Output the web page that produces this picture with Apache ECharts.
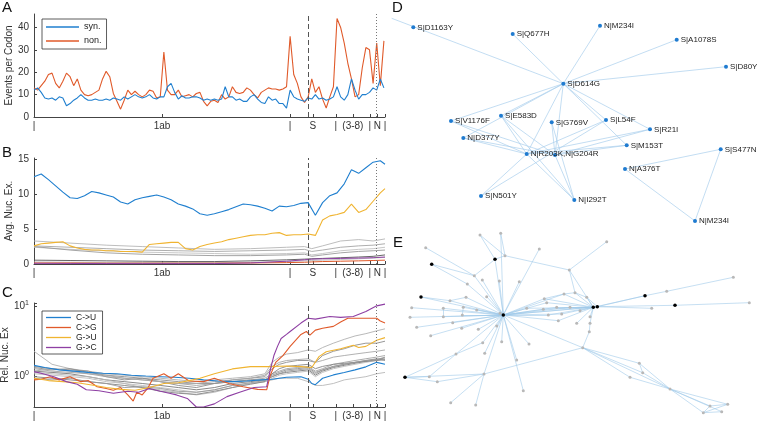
<!DOCTYPE html>
<html><head><meta charset="utf-8">
<script src="https://cdn.jsdelivr.net/npm/echarts@6/dist/echarts.min.js"></script>
<style>html,body{margin:0;padding:0;background:#fff}#c{width:757px;height:425px}</style>
</head><body><div id="c"></div>
<script>
// ---------------- DATA ----------------
const tickPos = [0, 3548, 7096, 7732, 8369, 8840, 9311, 9520, 9730];
const tickLabels = ['|', '1ab', '|', 'S', '|', '(3-8)', '|', 'N', '|'];
const markS = 7600, markN = 9480;

// Panel A
const xA = [0,100,200,300,400,500,600,700,800,900,1000,1100,1200,1300,1400,1500,1600,1700,1800,1900,2000,2100,2200,2300,2400,2500,2600,2700,2800,2900,3000,3100,3200,3300,3400,3500,3600,3700,3800,3900,4000,4100,4200,4300,4400,4500,4600,4700,4800,4900,5000,5100,5200,5300,5400,5500,5600,5700,5800,5900,6000,6100,6200,6300,6400,6500,6600,6700,6800,6900,7000,7100,7200,7300,7400,7500,7600,7700,7800,7900,8000,8100,8200,8300,8400,8500,8600,8700,8800,8900,9000,9100,9200,9300,9400,9500,9600,9700];
const nonA = [13,12,14,16,19,19.6,15,13,16,19.6,
  18,14,17,12,10,9.5,10,11,12,17,
  20.4,18,10.5,7,3.5,7.5,12,10,11.5,10,
  9,10,12,11.5,8.5,9,29,12,10,10,
  12,9,9.5,10,9,10.5,11,7,5,7,
  7.5,6.5,10,8,9,13.5,11,10.5,11,13,
  12,10,8.5,11,12,13,12.5,12.5,12,12.5,
  13.5,36,19,15,9,6.5,9,17,11,13.5,
  8,4,9,13.5,44,40,33,24,17,9,
  10,22,31,30,15,33,14,34];
const synA = [12,13,11,8.5,8,8.5,7.5,9,8.5,5,
  6,7.5,8.5,10,8.5,7.5,7.5,8,7.5,7.5,
  8,7.5,8.5,8,7.5,9,8,9,10,9,
  8.5,9,10,8.5,8,9,9,13.5,15,11,
  8,9.5,8.5,8.5,9,9,8.5,7.5,8,7.5,
  8,7.5,8,13.5,9,9,7.5,8,7,7,
  9,10,8,6.5,6,9,7.5,8,6,6,
  4,12,9,8,7.5,7,8.5,8,10,8,
  8.5,7.5,8,9,13.5,9,7.5,10,17,12,
  8,10,10,11,13,12,17,13];

// Panel B
const xB = [0,200,400,600,800,1000,1200,1400,1600,1800,2000,2200,2400,2600,2800,3000,3200,3400,3600,3800,4000,4200,4400,4600,4800,5000,5200,5400,5600,5800,6000,6200,6400,6600,6800,7000,7200,7400,7600,7800,8000,8200,8400,8600,8800,9000,9200,9400,9600,9730];
const blueB = [12.5,12.9,12.1,11.2,10.3,9.5,9.4,9.8,10.4,10.2,
  9.9,9.6,8.9,8.6,9.2,9.5,9.7,9.9,9.6,9.2,
  8.6,8.3,7.9,7.2,7.0,7.2,7.5,7.8,8.2,8.6,
  8.5,8.3,8.0,7.6,8.3,8.2,8.4,8.7,8.8,7.0,
  8.8,9.8,10.2,11.5,13.5,13.0,13.8,14.6,14.8,14.3];
const yellowB = [2.6,2.9,3.0,3.1,3.2,2.6,2.3,2.1,2.0,2.0,
  1.9,1.9,1.8,1.8,1.8,1.7,2.8,2.9,3.0,3.1,
  3.1,2.2,2.0,2.5,2.8,3.0,3.2,3.5,3.7,3.9,
  4.1,4.2,4.2,4.4,4.5,4.1,4.2,4.2,4.3,4.1,
  6.3,6.9,7.1,7.4,8.6,7.4,7.8,9.0,10.2,10.8];
const xBs = [0,1000,2000,3000,4000,5000,6000,7000,7500,7700,8000,8500,9000,9400,9730];
const grayB1 = [3.3,3.0,2.7,2.5,2.3,2.1,2.2,2.4,2.5,2.2,2.6,3.3,3.5,3.3,3.6];
const grayB2 = [2.6,2.4,2.2,2.0,1.9,1.8,1.9,2.0,2.1,1.8,2.0,2.4,2.6,2.7,2.9];
const grayB3 = [2.4,2.1,1.9,1.7,1.6,1.5,1.4,1.5,1.6,1.3,1.5,1.9,2.1,2.2,2.4];
const grayB4 = [2.5,2.0,1.6,1.4,1.3,1.2,1.2,1.3,1.4,1.1,1.3,1.6,1.8,1.9,2.0];
const grayB5 = [0.55,0.5,0.45,0.4,0.35,0.35,0.45,0.6,0.7,0.75,0.8,0.9,1.0,1.1,1.3];
const grayB6 = [0.3,0.25,0.2,0.2,0.2,0.2,0.25,0.35,0.45,0.5,0.55,0.65,0.75,0.85,0.95];
const orangeB = [0.15,0.15,0.12,0.12,0.12,0.12,0.15,0.2,0.25,0.3,0.35,0.4,0.45,0.5,0.55];
const purpleB = [0.1,0.08,0.06,0.05,0.05,0.06,0.15,0.4,0.6,0.7,0.75,0.8,0.85,0.9,1.0];

// Panel C
const cBlueX = [0,300,700,1100,1500,1900,2300,2700,3100,3500,3900,4300,4700,5100,5500,5900,6300,6600,7000,7400,7600,7700,7800,8000,8300,8600,8900,9200,9500,9730];
const cBlueY = [1.45,1.35,1.25,1.2,1.15,1.12,1.1,1.05,1.02,1.0,0.98,0.95,0.9,0.87,0.85,0.87,0.9,0.92,0.98,1.0,0.92,0.8,0.77,0.95,1.06,1.15,1.25,1.38,1.6,1.5];
const cOrangeX = [0,200,450,700,1000,1300,1500,1750,2000,2200,2400,2600,2750,2850,3000,3150,3300,3600,3800,4000,4300,4700,5000,5400,5800,6200,6450,6550,6700,6900,7100,7400,7550,7650,7800,8000,8300,8500,8700,8900,9200,9500,9600,9730];
const cOrangeY = [0.9,0.92,1.0,0.9,1.0,0.85,0.88,0.72,0.68,0.64,0.7,0.55,0.45,0.6,0.55,0.68,0.95,1.1,0.95,1.1,0.87,0.85,0.95,0.8,0.72,0.66,0.65,1.05,1.6,2.0,2.7,4.0,4.4,3.9,4.6,4.9,5.2,6.0,6.8,6.8,6.8,6.8,6.2,5.8];
const cPurpleX = [0,250,550,900,1200,1450,1800,2200,2600,2900,3200,3500,3750,3950,4250,4500,4700,5000,5350,5700,6100,6450,6550,6650,6750,6850,7000,7100,7400,7600,7800,8200,8500,8850,9200,9500,9730];
const cPurpleY = [1.18,1.1,1.0,0.85,0.78,0.65,0.63,0.58,0.62,0.6,0.68,0.62,0.58,0.55,0.49,0.37,0.37,0.41,0.52,0.6,0.7,0.72,1.25,2.0,2.7,3.5,4.0,4.4,5.8,6.8,6.6,7.2,7.0,7.2,8.5,10.2,10.8];
const cYellowX = [0,400,800,1200,1600,2000,2400,2800,3200,3600,4000,4400,4600,5000,5500,6000,6500,7000,7400,7700,7900,8100,8500,8850,9000,9200,9500,9730];
const cYellowY = [0.95,0.88,0.85,0.82,0.76,0.7,0.66,0.64,0.7,0.8,0.82,0.9,0.95,1.1,1.29,1.39,1.39,1.42,1.39,1.35,1.93,2.27,2.5,2.8,2.6,2.7,3.3,3.6];
const cGrayX = [0,500,1000,1500,2000,2500,3000,3500,4000,4500,5000,5500,6000,6400,6600,6800,7000,7300,7600,7800,8000,8300,8600,8900,9200,9500,9730];
const cGrayA = [2.3,1.5,1.3,1.2,1.1,1.05,1.0,0.95,0.9,0.85,0.9,0.95,1.0,1.1,1.6,1.9,2.1,2.2,2.4,2.3,2.6,3.0,3.4,3.8,4.1,4.5,4.8];
const cGrayB = [1.4,1.3,1.25,1.2,1.0,0.9,0.95,0.85,0.75,0.7,0.8,0.9,0.95,1.0,1.3,1.5,1.6,1.7,1.7,1.6,2.0,2.3,2.5,2.8,3.0,3.0,3.2];
const cGrayC = [1.3,1.2,1.15,1.1,1.0,0.95,0.9,0.85,0.8,0.75,0.8,0.85,0.9,0.95,1.1,1.2,1.3,1.35,1.4,1.2,1.3,1.5,1.6,1.7,1.8,1.9,2.0];
const cGrayD = [1.2,1.15,1.1,1.0,0.9,0.85,0.8,0.75,0.7,0.65,0.7,0.8,0.85,0.9,1.0,1.1,1.15,1.2,1.25,1.05,1.2,1.35,1.45,1.55,1.65,1.75,1.85];
const cGrayE = [1.1,1.05,1.0,0.95,0.85,0.8,0.75,0.7,0.65,0.6,0.65,0.75,0.8,0.85,0.95,1.05,1.1,1.15,1.2,1.0,1.15,1.3,1.4,1.5,1.6,1.7,1.8];
const cGrayF = [1.35,1.25,1.3,1.15,1.05,1.0,0.95,0.9,0.85,0.8,0.8,0.85,0.9,0.9,1.05,1.15,1.25,1.3,1.35,1.15,1.25,1.4,1.5,1.6,1.7,1.8,1.7];
const cGrayG = [1.15,1.1,1.05,1.0,0.9,0.8,0.7,0.65,0.6,0.55,0.6,0.7,0.8,0.85,0.9,0.95,0.95,0.95,0.85,0.75,0.75,0.8,0.9,0.95,1.0,1.1,1.15];
const cGrayH = [1.0,0.95,0.9,0.85,0.8,0.75,0.7,0.62,0.58,0.56,0.62,0.7,0.78,0.85,1.1,1.3,1.4,1.45,1.5,1.3,1.4,1.5,1.55,1.6,1.65,1.7,1.75];
const cGrayI = [1.2,1.3,1.2,1.1,1.05,0.95,0.9,0.85,0.8,0.8,0.85,0.9,0.95,1.05,1.4,1.6,1.7,1.75,1.8,1.6,1.7,1.9,2.0,2.1,2.2,2.3,2.4];
const cGrayJ = [0.95,0.9,0.95,0.85,0.8,0.7,0.72,0.68,0.62,0.6,0.65,0.75,0.82,0.88,1.0,1.1,1.2,1.25,1.3,1.1,1.25,1.4,1.5,1.6,1.7,1.75,1.9];

// Panel D network (layout units inside panel)
const dNames = ['S|D1163Y','S|Q677H','N|M234I','S|A1078S','S|D80Y','S|D614G','S|V1176F','S|E583D','S|G769V','S|L54F','S|R21I','N|D377Y','S|M153T','N|R203K,N|G204R','S|S477N','N|A376T','S|N501Y','N|I292T','N|M234I','',''];
const dX = [33.3,132.7,220,296.7,346,183.3,71,121,171.7,226,270,83.3,246.7,146.7,340.7,245,101,194.3,315,11.7,175];
const dY = [27.3,34,25.7,39.7,66.7,83.7,121,115.7,122.3,120,129.3,138,145.3,154,149.3,169,196,200,221,18.3,155];
const dLinks = [[5,19],[5,1],[5,2],[5,3],[5,4],[5,6],[5,7],[5,11],[5,13],[5,9],[5,10],[5,12],[5,20],
  [13,6],[13,11],[13,7],[13,9],[13,10],[13,12],[13,16],[13,17],[20,8],[20,7],[20,17],[20,6],[20,11],[20,12],[20,10],
  [16,9],[7,17],[8,17],[15,14],[15,18],[14,18]];

// Panel E network (layout units inside panel)
const eX = [123.3,213.3,217.3,115,51.7,41,25,265,295,120,100,120.7,125,45.7,159.3,226.7,189.3,94.3,102.3,87.3,119.3,139.3,70,86,106.7,31.7,63.3,83.3,96.7,30,63.3,82.3,36.7,72.7,81.7,98.3,50.7,116.7,121.7,102.7,149,104.7,76,136.7,104,49.3,57.3,143.3,70.7,95.7,202.7,259.3,262.7,250,290,330,347.7,323.3,341.7,164.3,184,195,166.7,206.7,176.7,190,163.3,200,210,168.3,181.7,196.7,210,209.3,178.3,146.7,271.7,286.7,353.3,369.3];
const eY = [95,87.3,86.7,39.3,44.3,77,157.3,75.7,85.3,93.3,15,13.3,35.7,27.7,29,21.7,50,55.7,60,64,61,61.7,80.7,77.3,76.7,87.7,88.3,87.3,90,97.3,96.7,95,107.3,102.7,108.3,109.3,115.7,106,121.7,122.7,124,133.3,134,140,154,156.7,161.7,170.7,182.7,185,127.7,143.3,152.7,157.3,169,186,184.3,192.7,191.7,78.7,74,72.7,82.7,77.3,87.3,87.3,89.3,90.7,96.7,95,94,103.3,103.3,111.7,100.7,88.3,88.3,71.3,57.3,82.7];
const eBlack = [0,1,2,3,4,5,6,7,8];
const eLinks = [[0,3],[0,11],[0,9],[3,10],[3,12],[10,12],[11,12],[3,17],[12,16],[16,15],[16,61],[61,1],[16,1],
  [4,17],[4,19],[13,17],[17,0],[18,0],[19,0],[20,0],[21,0],[14,0],[5,0],[22,0],[23,0],[24,0],[25,0],[26,0],[27,0],[28,0],[29,0],[30,0],[31,0],[32,0],[33,0],[34,0],[35,0],[36,0],[37,0],[38,0],[39,0],[40,0],[41,0],[43,0],[42,0],[47,0],[44,0],
  [22,23],[26,30],[31,27],[5,22],
  [44,48],[44,49],[44,50],[42,6],[6,45],[6,46],[45,42],[46,44],[6,44],[42,39],
  [0,50],[50,51],[50,52],[50,53],[50,54],[51,54],[52,54],[53,54],[51,52],[54,55],[54,56],[54,57],[54,58],[55,56],[57,58],[56,57],[55,57],
  [50,73],[73,72],[72,1],[71,1],[68,1],
  [0,1],[0,2],[0,59],[0,62],[0,64],[0,66],[0,69],[0,70],[0,74],[0,75],[0,65],[0,60],
  [59,1],[60,1],[62,1],[63,1],[64,1],[65,1],[66,1],[67,1],[69,1],[70,1],[74,1],[75,1],[59,60],[60,61],[61,63],
  [1,2],[2,7],[7,77],[77,78],[2,8],[8,79],[2,76],[2,63],[1,7]];

// ---------------- CHART ----------------
const BLUE = '#1f7fcf', ORANGE = '#e05a2a', YELLOW = '#f0b431', PURPLE = '#8e3fa3';
const FONT = "'Liberation Sans', Arial, sans-serif";
function pairs(xs, ys) { return xs.map((x, i) => [x, ys[i]]); }
function line(name, xs, ys, color, gi, width, z) {
  return { name, type: 'line', xAxisIndex: gi, yAxisIndex: gi, data: pairs(xs, ys), showSymbol: false, symbol: 'none',
    lineStyle: { color, width: width || 1 }, itemStyle: { color }, silent: true, z: z || 2 };
}
function marks() {
  return { silent: true, symbol: ['none', 'none'], label: { show: false }, animation: false,
    data: [{ xAxis: markS, lineStyle: { type: [5, 3], color: '#555', width: 1 } },
           { xAxis: markN, lineStyle: { type: [1, 2], color: '#777', width: 1 } }] };
}
function axX(gi) {
  return { gridIndex: gi, type: 'value', min: 0, max: 9730,
    axisLine: { show: true, lineStyle: { color: '#444', width: 1 } },
    axisTick: { show: true, inside: true, length: 3, customValues: tickPos, lineStyle: { color: '#444' } },
    axisLabel: { customValues: tickPos, formatter: v => { const i = tickPos.indexOf(v); return i >= 0 ? tickLabels[i] : ''; }, fontSize: 10, color: '#333', margin: 4, fontFamily: FONT },
    splitLine: { show: false } };
}
function axY(gi, o) {
  return Object.assign({ gridIndex: gi, type: 'value', nameLocation: 'middle', nameRotate: 90,
    nameTextStyle: { fontSize: 10, color: '#333', fontFamily: FONT },
    axisLine: { show: true, lineStyle: { color: '#444', width: 1 } },
    axisTick: { show: true, inside: true, length: 3, lineStyle: { color: '#444' } },
    axisLabel: { fontSize: 10, color: '#333', margin: 5, fontFamily: FONT },
    splitLine: { show: false } }, o);
}

const yA = axY(0, { min: 0, max: 46, name: 'Events per Codon', nameGap: 16 });
yA.axisTick.customValues = [0, 10, 20, 30, 40];
yA.axisLabel.customValues = [0, 10, 20, 30, 40];
const yB = axY(1, { min: 0, max: 15.2, name: 'Avg. Nuc. Ex.', nameGap: 17 });
yB.axisTick.customValues = [0, 5, 10, 15];
yB.axisLabel.customValues = [0, 5, 10, 15];
const yC = axY(2, { type: 'log', logBase: 10, min: 0.37, max: 11.2, name: 'Rel. Nuc. Ex', nameGap: 20 });
yC.axisLabel.formatter = v => (Math.abs(v - 1) < 1e-6 ? '{b|10}{s|0}' : (Math.abs(v - 10) < 1e-6 ? '{b|10}{s|1}' : ''));
yC.axisLabel.rich = { b: { fontSize: 10, color: '#333', fontFamily: FONT }, s: { fontSize: 7, color: '#333', verticalAlign: 'top', padding: [0, 0, 7, 0], fontFamily: FONT } };

const hiddenAx = (gi, max) => ({ gridIndex: gi, type: 'value', min: 0, max, show: false });

const series = [];
// A
const sA1 = line('syn.', xA, synA, BLUE, 0, 1.1, 3);
const sA2 = line('non.', xA, nonA, ORANGE, 0, 1.1, 2);
sA2.markLine = marks();
series.push(sA2, sA1);
// B
const bGrays = [[grayB1, '#b5b5b5'], [grayB2, '#a5a5a5'], [grayB3, '#c2c2c2'], [grayB4, '#9a9a9a'], [grayB5, '#555555'], [grayB6, '#bdbdbd']];
bGrays.forEach((g, i) => series.push(line('bg' + i, xBs, g[0], g[1], 1, 0.9, 2)));
series.push(line('bo', xBs, orangeB, ORANGE, 1, 1, 3));
series.push(line('bp', xBs, purpleB, PURPLE, 1, 1, 3));
series.push(line('by', xB, yellowB, YELLOW, 1, 1.1, 4));
const sB = line('bb', xB, blueB, BLUE, 1, 1.1, 5);
sB.markLine = marks();
series.push(sB);
// C
const cGrays = [cGrayA, cGrayB, cGrayC, cGrayD, cGrayE, cGrayF, cGrayG, cGrayH, cGrayI, cGrayJ];
const grayCols = ['#b0b0b0', '#8c8c8c', '#a3a3a3', '#7a7a7a', '#bdbdbd', '#909090', '#b8b8b8', '#868686', '#a8a8a8', '#999999'];
cGrays.forEach((g, i) => series.push(line('cg' + i, cGrayX, g, grayCols[i], 2, 0.9, 2)));
const sC1 = line('C->U', cBlueX, cBlueY, BLUE, 2, 1.1, 4);
sC1.markLine = marks();
series.push(sC1);
series.push(line('C->G', cOrangeX, cOrangeY, ORANGE, 2, 1.1, 4));
series.push(line('G->U', cYellowX, cYellowY, YELLOW, 2, 1.1, 4));
series.push(line('G->C', cPurpleX, cPurpleY, PURPLE, 2, 1.1, 4));
// D
series.push({ type: 'graph', coordinateSystem: 'cartesian2d', xAxisIndex: 3, yAxisIndex: 3, silent: true,
  data: dNames.map((n, i) => ({ id: 'd' + i, name: n, value: [dX[i], dY[i]], symbolSize: n === '' && i === 19 ? 0 : 4 })),
  links: dLinks.map(p => ({ source: p[0], target: p[1] })),
  symbol: 'circle', itemStyle: { color: '#1f7bd0' },
  lineStyle: { color: '#a9cfec', width: 0.7, opacity: 1, curveness: 0 },
  label: { show: true, position: 'right', distance: 2, fontSize: 8, color: '#222', fontFamily: FONT, formatter: '{b}' },
  emphasis: { disabled: true } });
// E
series.push({ type: 'graph', coordinateSystem: 'cartesian2d', xAxisIndex: 4, yAxisIndex: 4, silent: true,
  data: eX.map((x, i) => { const b = eBlack.indexOf(i) >= 0; return { id: 'e' + i, name: 'e' + i, value: [x, eY[i]], symbolSize: b ? 3.5 : 3, itemStyle: { color: b ? '#000' : '#b8b8b8' }, z: b ? 3 : 2 }; }),
  links: eLinks.map(p => ({ source: p[0], target: p[1] })),
  symbol: 'circle',
  lineStyle: { color: '#9fc9e9', width: 0.6, opacity: 1, curveness: 0 },
  label: { show: false }, emphasis: { disabled: true } });

const letters = [['A', 2, 0], ['B', 2, 145], ['C', 2, 285], ['D', 392, 0], ['E', 393, 235]];

const option = {
  animation: false,
  backgroundColor: '#fff',
  textStyle: { fontFamily: FONT },
  grid: [
    { left: 34, top: 14, width: 351, height: 103, outerBoundsMode: 'none', containLabel: false },
    { left: 34, top: 158, width: 351, height: 106, outerBoundsMode: 'none', containLabel: false },
    { left: 34, top: 303, width: 351, height: 104, outerBoundsMode: 'none', containLabel: false },
    { left: 380, top: 0, width: 377, height: 230, outerBoundsMode: 'none', containLabel: false },
    { left: 380, top: 220, width: 377, height: 205, outerBoundsMode: 'none', containLabel: false }
  ],
  xAxis: [axX(0), axX(1), axX(2), hiddenAx(3, 377), hiddenAx(4, 377)],
  yAxis: [yA, yB, yC, Object.assign(hiddenAx(3, 230), { inverse: true }), Object.assign(hiddenAx(4, 205), { inverse: true })],
  legend: [
    { data: ['syn.', 'non.'], orient: 'vertical', left: 42, top: 19, padding: [3, 5, 3, 4], itemGap: 4, itemWidth: 33, itemHeight: 1.3, icon: 'rect',
      textStyle: { fontSize: 9, lineHeight: 10, color: '#222', fontFamily: FONT }, borderColor: '#333', borderWidth: 0.8, borderRadius: 0, backgroundColor: '#fff', selectedMode: false },
    { data: ['C->U', 'C->G', 'G->U', 'G->C'], orient: 'vertical', left: 42, top: 311, padding: [2, 6, 2, 4], itemGap: 1, itemWidth: 25, itemHeight: 1.3, icon: 'rect',
      textStyle: { fontSize: 8.5, lineHeight: 8.5, color: '#222', fontFamily: FONT }, borderColor: '#333', borderWidth: 0.8, borderRadius: 0, backgroundColor: '#fff', selectedMode: false }
  ],
  graphic: letters.map(l => ({ type: 'text', left: l[1], top: l[2], style: { text: l[0], fontSize: 15, fill: '#111', fontFamily: FONT } })),
  series
};
const chart = echarts.init(document.getElementById('c'), null, { renderer: 'canvas' });
chart.setOption(option);
</script></body></html>
